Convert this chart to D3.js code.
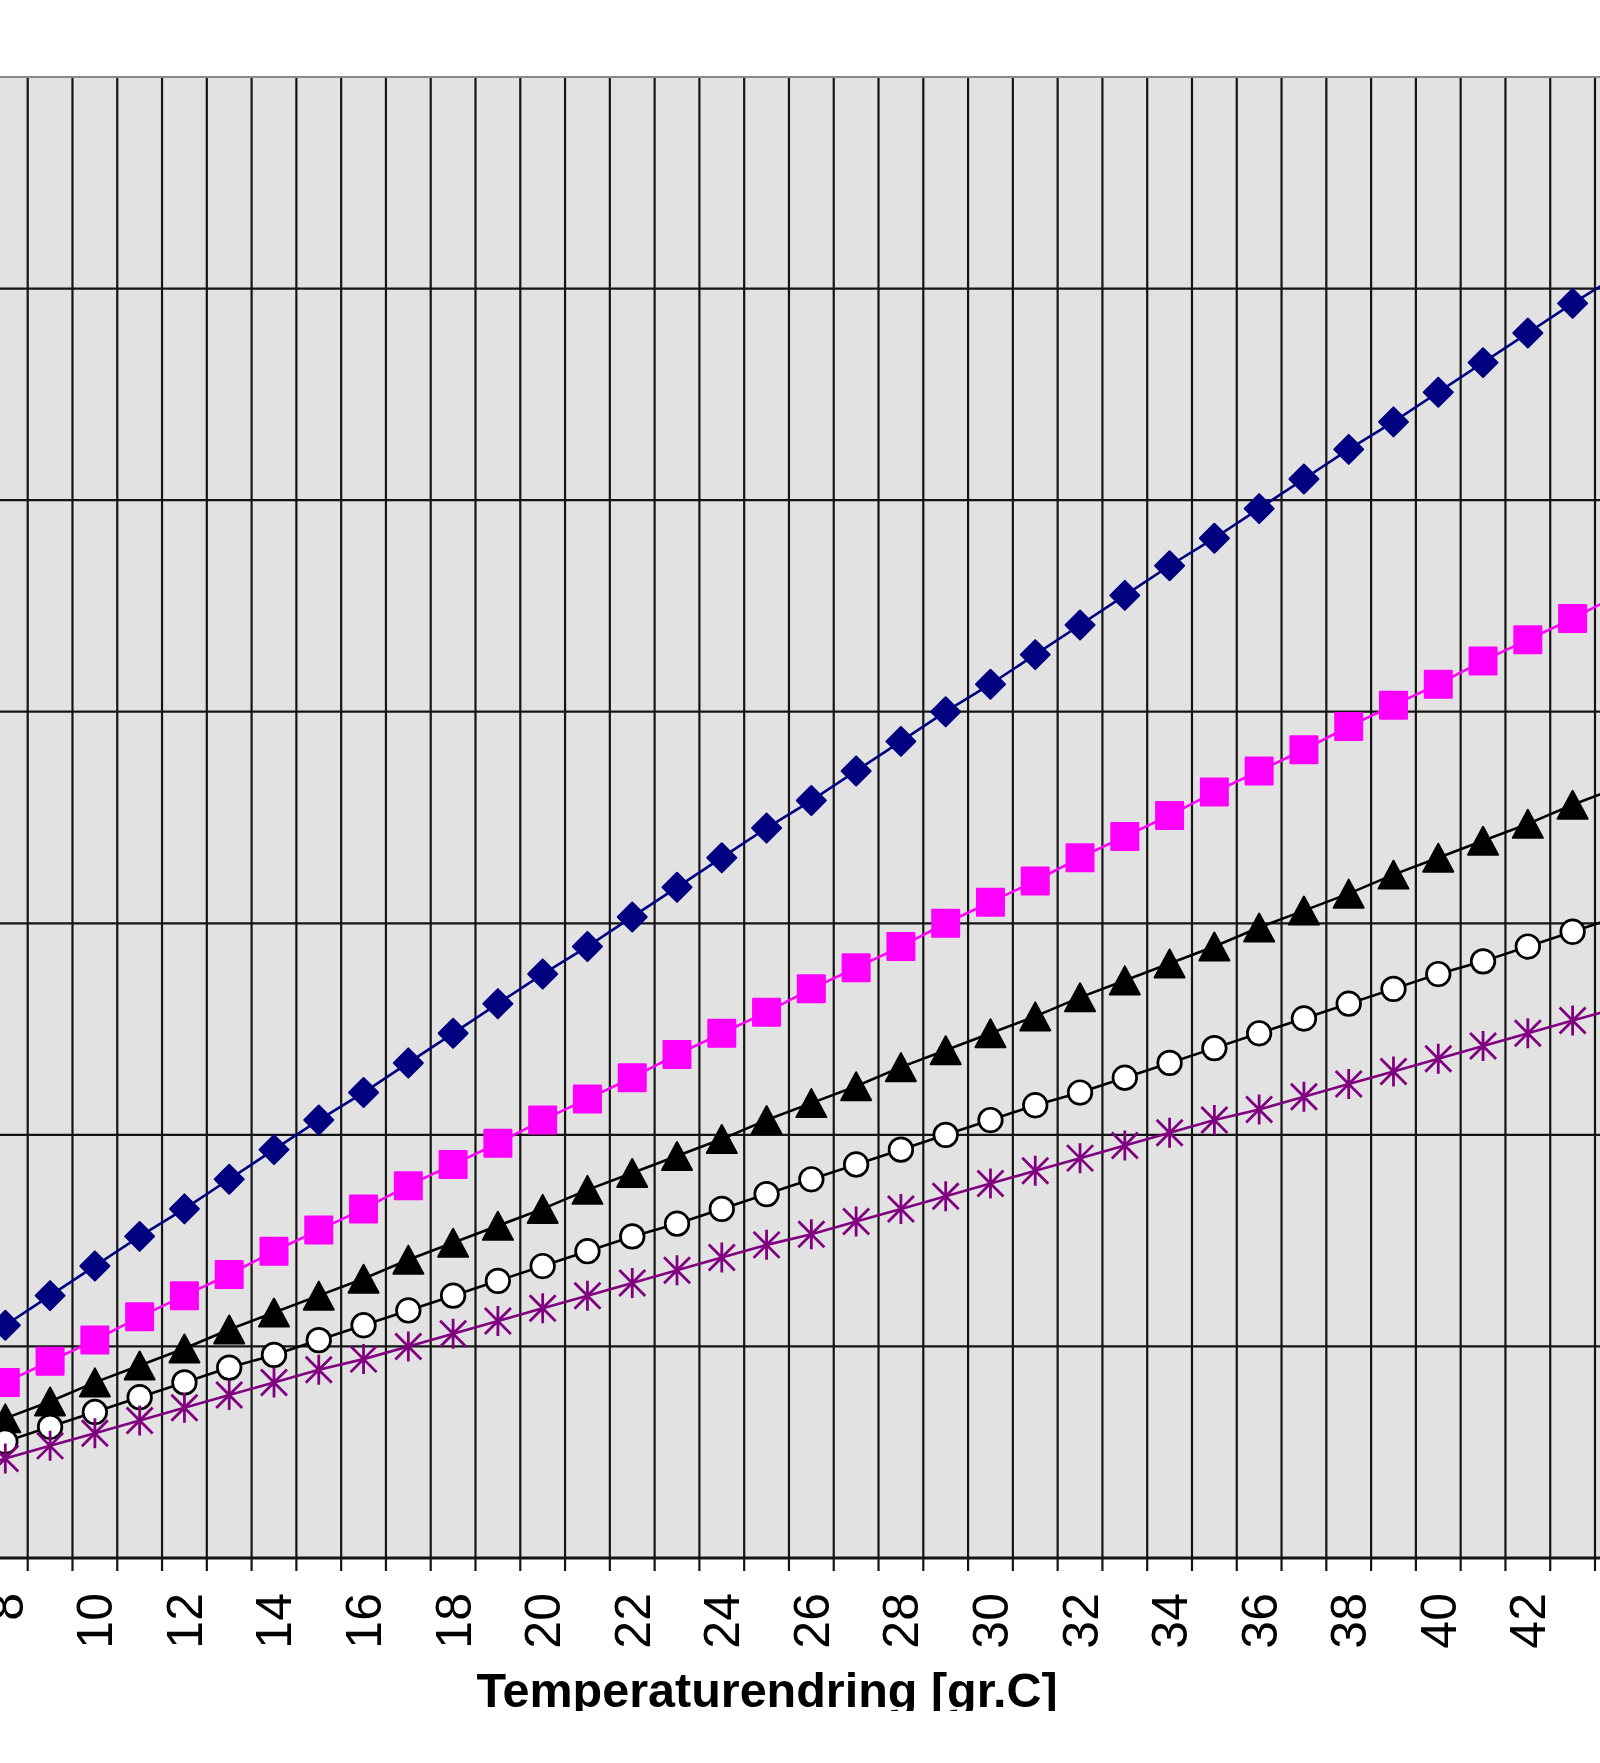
<!DOCTYPE html>
<html>
<head>
<meta charset="utf-8">
<script src="https://cdn.jsdelivr.net/npm/d3@7"></script>
<style>
html,body{margin:0;padding:0;background:#fff;}
svg{display:block;}
text{font-family:"Liberation Sans",Arial,sans-serif;}
</style>
</head>
<body>
<svg id="chart" width="1600" height="1763"></svg>
<script>
// ---- data ----
const categories = [7,8,9,10,11,12,13,14,15,16,17,18,19,20,21,22,23,24,25,26,27,28,29,30,31,32,33,34,35,36,37,38,39,40,41,42,43,44,45];
const tickLabels = [8,10,12,14,16,18,20,22,24,26,28,30,32,34,36,38,40,42,44];
const yGridTicks = [10,20,30,40,50,60];
const xTitle = "Temperaturendring [gr.C]";

const serieDiamond = [9.6,11.0,12.4,13.8,15.2,16.5,17.9,19.3,20.7,22.0,23.4,24.8,26.2,27.6,28.9,30.3,31.7,33.1,34.5,35.8,37.2,38.6,40.0,41.3,42.7,44.1,45.5,46.9,48.2,49.6,51.0,52.4,53.7,55.1,56.5,57.9,59.3,60.6,62.0];
const serieSquare  = [7.2,8.3,9.3,10.3,11.4,12.4,13.4,14.5,15.5,16.5,17.6,18.6,19.6,20.7,21.7,22.7,23.8,24.8,25.8,26.9,27.9,28.9,30.0,31.0,32.0,33.1,34.1,35.1,36.2,37.2,38.2,39.3,40.3,41.3,42.4,43.4,44.4,45.5,46.5];
const serieTriangle= [5.8,6.6,7.4,8.3,9.1,9.9,10.8,11.6,12.4,13.2,14.1,14.9,15.7,16.5,17.4,18.2,19.0,19.8,20.7,21.5,22.3,23.2,24.0,24.8,25.6,26.5,27.3,28.1,28.9,29.8,30.6,31.4,32.3,33.1,33.9,34.7,35.6,36.4,37.2];
const serieCircle  = [4.8,5.5,6.2,6.9,7.6,8.3,9.0,9.6,10.3,11.0,11.7,12.4,13.1,13.8,14.5,15.2,15.8,16.5,17.2,17.9,18.6,19.3,20.0,20.7,21.4,22.0,22.7,23.4,24.1,24.8,25.5,26.2,26.9,27.6,28.2,28.9,29.6,30.3,31.0];
const serieStar    = [4.1,4.7,5.3,5.9,6.5,7.1,7.7,8.3,8.9,9.4,10.0,10.6,11.2,11.8,12.4,13.0,13.6,14.2,14.8,15.3,15.9,16.5,17.1,17.7,18.3,18.9,19.5,20.1,20.7,21.2,21.8,22.4,23.0,23.6,24.2,24.8,25.4,26.0,26.6];

// ---- layout ----
const W = 1600, H = 1763;
const svg = d3.select("#chart");
svg.append("rect").attr("width", W).attr("height", H).attr("fill", "#fff");

const x = d3.scaleBand().domain(categories).range([-61.86, 1684.56]).paddingInner(0).paddingOuter(0);
const y = d3.scaleLinear().domain([0, 70]).range([1558, 77]);
const cx = c => x(c) + x.bandwidth() / 2;

const x0 = x.range()[0], x1 = x.range()[1];

// plot area
svg.append("rect")
  .attr("x", x0).attr("y", y(70))
  .attr("width", x1 - x0).attr("height", y(0) - y(70))
  .attr("fill", "#e2e2e2");

// vertical gridlines + tick marks at category boundaries
const bounds = categories.map(c => x(c)).concat([x1]);
svg.append("g").selectAll("line").data(bounds).join("line")
  .attr("x1", d => d).attr("x2", d => d)
  .attr("y1", y(70)).attr("y2", y(0) + 13)
  .attr("stroke", "#151515").attr("stroke-width", 2.2);

// horizontal gridlines
svg.append("g").selectAll("line").data(yGridTicks).join("line")
  .attr("x1", x0).attr("x2", x1)
  .attr("y1", d => y(d)).attr("y2", d => y(d))
  .attr("stroke", "#151515").attr("stroke-width", 2.2);

// top border
svg.append("line").attr("x1", x0).attr("x2", x1).attr("y1", y(70)).attr("y2", y(70))
  .attr("stroke", "#8a8a8a").attr("stroke-width", 2.2);

// series
const series = [
  {values: serieDiamond,  color: "#000080", marker: "diamond"},
  {values: serieSquare,   color: "#ff00ff", marker: "square"},
  {values: serieTriangle, color: "#000000", marker: "triangle"},
  {values: serieCircle,   color: "#000000", marker: "circle"},
  {values: serieStar,     color: "#800080", marker: "star"}
];

const line = d3.line().x((d, i) => cx(categories[i])).y(d => y(d));

const markerPaths = {
  diamond: "M0,-14.5L14.5,0L0,14.5L-14.5,0Z",
  square: "M-13.5,-13.5H13.5V13.5H-13.5Z",
  triangle: "M0,-14L15,14H-15Z",
  star: "M0,-15V15M-13,-13L13,13M13,-13L-13,13"
};

series.forEach(s => {
  const g = svg.append("g");
  g.append("path").datum(s.values)
    .attr("d", line).attr("fill", "none")
    .attr("stroke", s.color).attr("stroke-width", 2.6);
  const pts = g.selectAll(".m").data(s.values).join("g")
    .attr("transform", (d, i) => `translate(${cx(categories[i])},${y(d)})`);
  if (s.marker === "circle") {
    pts.append("circle").attr("r", 11.8).attr("fill", "#fff")
      .attr("stroke", "#000").attr("stroke-width", 2.7);
  } else if (s.marker === "star") {
    pts.append("path").attr("d", markerPaths.star).attr("fill", "none")
      .attr("stroke", s.color).attr("stroke-width", 2.8);
  } else {
    pts.append("path").attr("d", markerPaths[s.marker]).attr("fill", s.color)
      .attr("stroke", s.color).attr("stroke-width", 2).attr("stroke-linejoin", "round");
  }
});

// x axis line
svg.append("line").attr("x1", x0).attr("x2", x1).attr("y1", y(0)).attr("y2", y(0))
  .attr("stroke", "#151515").attr("stroke-width", 3);

// x axis labels via d3 axis
const xAxis = d3.axisBottom(x).tickValues(tickLabels).tickSize(0).tickFormat(d => String(d));
const ax = svg.append("g").attr("transform", `translate(0,${y(0)})`).call(xAxis);
ax.select(".domain").remove();
ax.selectAll(".tick line").remove();
ax.selectAll(".tick text")
  .attr("transform", "rotate(-90)")
  .attr("x", -35).attr("y", 0).attr("dy", "0.35em")
  .attr("text-anchor", "end")
  .attr("fill", "#000")
  .style("font-family", "'Liberation Sans', Arial, sans-serif")
  .style("font-size", "50px");

// x title, clipped at bottom like the reference
svg.append("clipPath").attr("id", "titleClip")
  .append("rect").attr("x", 0).attr("y", 1600).attr("width", W).attr("height", 111);
svg.append("text")
  .attr("clip-path", "url(#titleClip)")
  .attr("x", 767).attr("y", 1707)
  .attr("text-anchor", "middle")
  .attr("fill", "#000")
  .style("font-family", "'Liberation Sans', Arial, sans-serif")
  .style("font-weight", "bold")
  .style("font-size", "48.5px")
  .text(xTitle);
</script>
</body>
</html>
